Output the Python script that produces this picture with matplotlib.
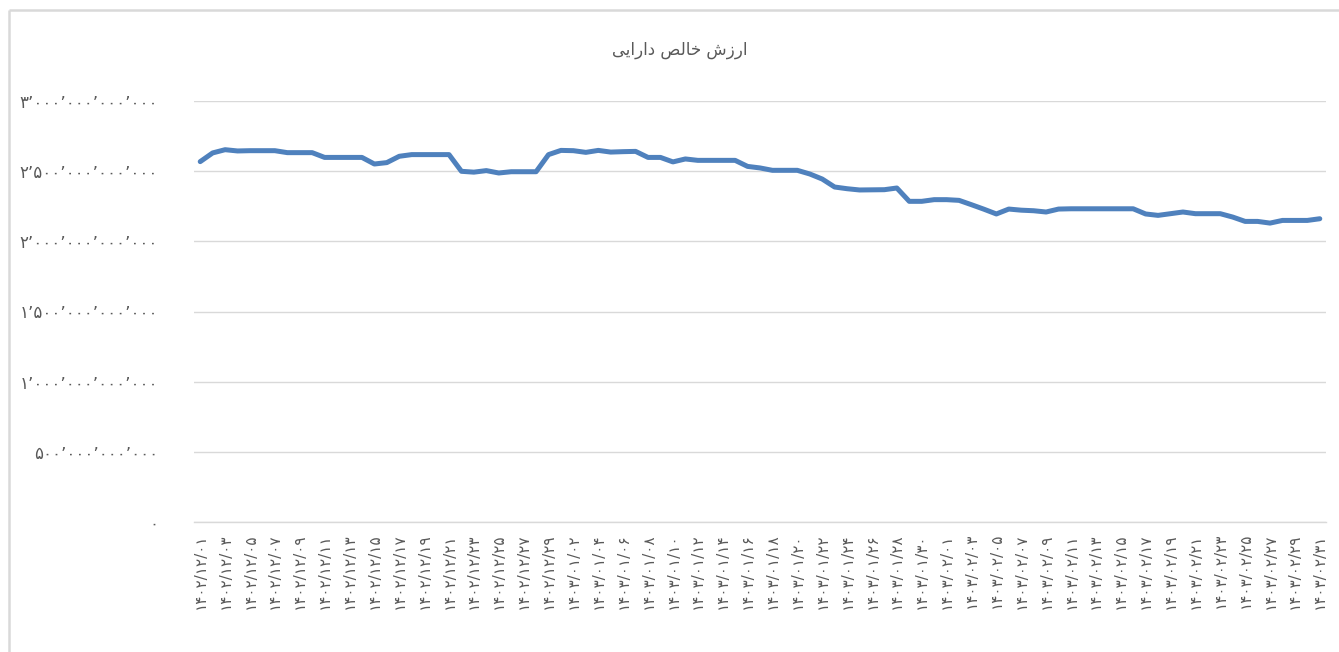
import matplotlib
matplotlib.use("Agg")
import matplotlib.pyplot as plt
from matplotlib.lines import Line2D

# ---- data -------------------------------------------------------------
# Persian calendar months covered: (year, month, number of days)
months = [(1402, 12, 29), (1403, 1, 31), (1403, 2, 31)]

# Net asset value, in billions of rials, one value per day
nav_billion = [
    2568, 2630, 2653, 2644, 2646, 2646, 2646, 2632, 2632, 2632,
    2598, 2598, 2598, 2598, 2551, 2561, 2606, 2618, 2618, 2618,
    2618, 2499, 2493, 2504, 2487, 2496, 2496, 2496, 2618, 2648,
    2646, 2634, 2648, 2636, 2639, 2641, 2598, 2598, 2566, 2587,
    2577, 2577, 2577, 2577, 2534, 2523, 2506, 2506, 2506, 2480,
    2444, 2387, 2375, 2366, 2367, 2368, 2380, 2285, 2285, 2297,
    2297, 2292, 2261, 2229, 2195, 2230, 2222, 2218, 2209, 2230,
    2232, 2232, 2232, 2232, 2232, 2232, 2195, 2185, 2197, 2209,
    2197, 2197, 2197, 2173, 2142, 2142, 2130, 2149, 2149, 2149,
    2161,
]

y_ticks = [0, 500e9, 1000e9, 1500e9, 2000e9, 2500e9, 3000e9]
y_tick_labels = ["۰",
                 "۵۰۰٬۰۰۰٬۰۰۰٬۰۰۰",
                 "۱٬۰۰۰٬۰۰۰٬۰۰۰٬۰۰۰",
                 "۱٬۵۰۰٬۰۰۰٬۰۰۰٬۰۰۰",
                 "۲٬۰۰۰٬۰۰۰٬۰۰۰٬۰۰۰",
                 "۲٬۵۰۰٬۰۰۰٬۰۰۰٬۰۰۰",
                 "۳٬۰۰۰٬۰۰۰٬۰۰۰٬۰۰۰"]

# "ارزش خالص دارایی" written in shaped presentation forms, visual order
title_text = "ﻰﻳﺍﺭﺍﺩ ﺺﻟﺎﺧ ﺵﺯﺭﺍ"

# ---- build categories ---------------------------------------------------
fa = str.maketrans("0123456789", "۰۱۲۳۴۵۶۷۸۹")
dates = []
for yy, mm, nd in months:
    for d in range(1, nd + 1):
        dates.append(f"{yy}/{mm:02d}/{d:02d}".translate(fa))

values = [v * 1e9 for v in nav_billion]
x = list(range(len(dates)))

# ---- figure -------------------------------------------------------------
W, H = 1339, 652
fig = plt.figure(figsize=(W / 100, H / 100), dpi=100)
fig.patch.set_facecolor("white")

# outer chart border (only top and left edges are visible in the crop)
border_top = 1 - 10 / H
border_left = 8.5 / W
fig.add_artist(Line2D([border_left, 1.05], [border_top, border_top],
                      transform=fig.transFigure, color="#d9d9d9",
                      linewidth=1.8, solid_capstyle="butt"))
fig.add_artist(Line2D([border_left, border_left], [-0.05, border_top],
                      transform=fig.transFigure, color="#d9d9d9",
                      linewidth=1.8, solid_capstyle="butt"))

ax = fig.add_axes([194 / W, (H - 522) / H, (1326 - 194) / W, (522 - 101) / H])
ax.set_facecolor("white")

ax.plot(x, values, color="#4F81BD", linewidth=3.6,
        solid_joinstyle="round", solid_capstyle="round", zorder=3)

ax.set_xlim(-0.5, len(dates) - 0.5)
ax.set_ylim(0, 3000e9)

ax.set_yticks(y_ticks)
ax.set_yticklabels(y_tick_labels, family=["DejaVu Sans"], fontsize=12,
                   color="#595959")
ax.yaxis.grid(True, color="#d9d9d9", linewidth=1.0, zorder=0)
ax.tick_params(axis="y", length=0, pad=26)

tick_idx = list(range(0, len(dates), 2))
ax.set_xticks(tick_idx)
ax.set_xticklabels([dates[i] for i in tick_idx], rotation=90,
                   family=["DejaVu Sans"], fontsize=11, color="#595959",
                   va="top", ha="center")
ax.tick_params(axis="x", length=0, pad=8)

for s in ["top", "right", "left"]:
    ax.spines[s].set_visible(False)
ax.spines["bottom"].set_color("#d9d9d9")
ax.spines["bottom"].set_linewidth(1.0)
ax.set_axisbelow(True)

fig.text(680 / W, 1 - 50 / H, title_text, ha="center", va="center",
         fontsize=12, color="#595959", family=["DejaVu Sans"])

fig.savefig("out.png", dpi=100, facecolor="white")
